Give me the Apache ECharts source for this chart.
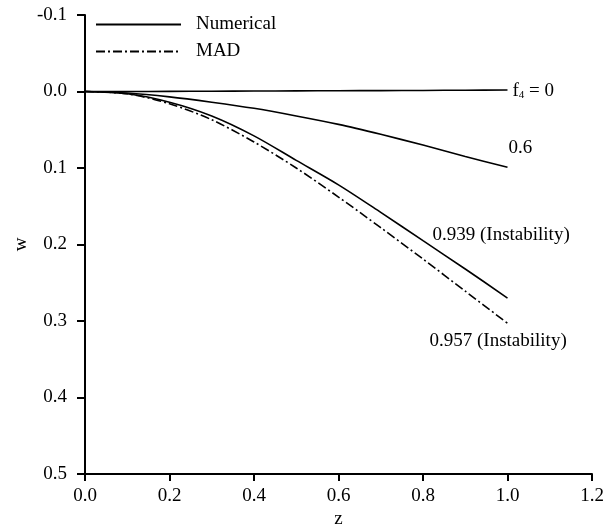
<!DOCTYPE html>
<html>
<head>
<meta charset="utf-8">
<script src="https://cdn.jsdelivr.net/npm/echarts@6/dist/echarts.min.js"></script>
<style>
	html, body { margin: 0; padding: 0; background: #fff; }
	#chart { width: 613px; height: 532px; }
</style>
</head>
<body>
<div id="chart"></div>
<script>
// z positions shared by every curve
const zValues = [0, 0.1, 0.2, 0.3, 0.4, 0.5, 0.6, 0.7, 0.8, 0.9, 1.0]
// numerical deflection w for each load level f4
const wF0 = [0, 0, -0.0002, -0.0004, -0.0006, -0.0008, -0.001, -0.0012, -0.0014, -0.0017, -0.002]
const wF06 = [0, 0.002, 0.007, 0.014, 0.022, 0.032, 0.043, 0.056, 0.07, 0.085, 0.099]
const wF0939 = [0, 0.003, 0.014, 0.032, 0.058, 0.09, 0.122, 0.158, 0.195, 0.232, 0.27]
// MAD prediction
const wMad = [0, 0.003, 0.016, 0.037, 0.066, 0.1, 0.138, 0.178, 0.219, 0.261, 0.303]

const FONT = 'Liberation Serif'
const FS = 19

function pairs(arr) {
	return arr.map((w, i) => [zValues[i], w])
}

const chart = echarts.init(document.getElementById('chart'))

const baseLine = {
	type: 'line',
	showSymbol: false,
	symbol: 'none',
	smooth: 0.3,
	lineStyle: { color: '#000', width: 1.6 },
	itemStyle: { color: '#000' },
	emphasis: { disabled: true }
}

function endLabel(text, offset, extra) {
	return Object.assign({
		show: true,
		formatter: text,
		distance: 0,
		offset: offset,
		align: 'left',
		verticalAlign: 'middle',
		color: '#000',
		fontFamily: FONT,
		fontSize: FS
	}, extra || {})
}

chart.setOption({
	animation: false,
	backgroundColor: '#fff',
	grid: { left: 85, right: 21, top: 15, bottom: 58, outerBoundsMode: 'none' },
	legend: {
		left: 90,
		top: 10,
		orient: 'vertical',
		itemWidth: 85,
		itemHeight: 20,
		itemGap: 8,
		data: ['Numerical', 'MAD'],
		itemStyle: { opacity: 0 },
		textStyle: { fontFamily: FONT, fontSize: FS, color: '#000', padding: [0, 0, 0, 10] }
	},
	xAxis: {
		type: 'value',
		min: 0,
		max: 1.2,
		interval: 0.2,
		name: 'z',
		nameLocation: 'middle',
		nameGap: 36,
		nameMoveOverlap: false,
		nameTextStyle: { fontFamily: FONT, fontSize: FS, color: '#000' },
		axisLine: { show: true, onZero: false, lineStyle: { color: '#000', width: 2 } },
		axisTick: { show: true, length: 7, lineStyle: { color: '#000', width: 2 } },
		axisLabel: { fontFamily: FONT, fontSize: FS, color: '#000', margin: 13, formatter: v => v.toFixed(1) },
		splitLine: { show: false }
	},
	yAxis: {
		type: 'value',
		inverse: true,
		min: -0.1,
		max: 0.5,
		interval: 0.1,
		name: 'w',
		nameLocation: 'middle',
		nameGap: 54,
		nameMoveOverlap: false,
		nameRotate: 90,
		nameTextStyle: { fontFamily: FONT, fontSize: FS, color: '#000' },
		axisLine: { show: true, onZero: false, lineStyle: { color: '#000', width: 2 } },
		axisTick: { show: true, length: 8, lineStyle: { color: '#000', width: 2 } },
		axisLabel: { fontFamily: FONT, fontSize: FS, color: '#000', margin: 18, formatter: v => v.toFixed(1) },
		splitLine: { show: false }
	},
	series: [
		Object.assign({}, baseLine, {
			name: 'Numerical',
			data: pairs(wF0),
			endLabel: endLabel('{a|f}{s|4}{a| = 0}', [5, 1], {
				rich: {
					a: { fontFamily: FONT, fontSize: FS, color: '#000' },
					s: { fontFamily: FONT, fontSize: 11, color: '#000', padding: [9, 0, 0, 0] }
				}
			})
		}),
		Object.assign({}, baseLine, {
			name: 'Numerical',
			data: pairs(wF06),
			endLabel: endLabel('0.6', [1, -19])
		}),
		Object.assign({}, baseLine, {
			name: 'Numerical',
			data: pairs(wF0939),
			endLabel: endLabel('0.939 (Instability)', [-75, -63])
		}),
		Object.assign({}, baseLine, {
			name: 'MAD',
			lineStyle: { color: '#000', width: 1.6, type: [9, 3, 2, 3] },
			data: pairs(wMad),
			endLabel: endLabel('0.957 (Instability)', [-78, 18])
		})
	]
})
</script>
</body>
</html>
